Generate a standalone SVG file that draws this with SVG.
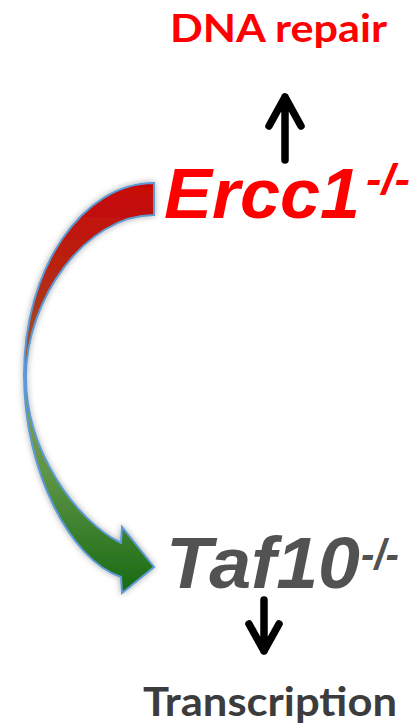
<svg xmlns="http://www.w3.org/2000/svg" width="419" height="727" viewBox="0 0 419 727">
<defs>
<style>
.lbl{font-family:Lato,"Open Sans","Liberation Sans",sans-serif;font-weight:bold}
.gene{font-family:"Liberation Sans",Arial,sans-serif;font-weight:bold;font-style:italic}
.arr{stroke:#000;stroke-width:7.5;fill:none;stroke-linecap:round;stroke-linejoin:round}
</style>
<linearGradient id="g" gradientUnits="userSpaceOnUse" x1="0" y1="183" x2="0" y2="593">
<stop offset="0" stop-color="#c80505"/>
<stop offset="0.25" stop-color="#b42a14"/>
<stop offset="0.45" stop-color="#9a5a35"/>
<stop offset="0.57" stop-color="#7a9a55"/>
<stop offset="0.72" stop-color="#5c9345"/>
<stop offset="1" stop-color="#176a12"/>
</linearGradient>
<filter id="sh" x="-20%" y="-10%" width="140%" height="120%">
<feDropShadow dx="0" dy="0" stdDeviation="3" flood-color="#000" flood-opacity="0.35"/>
</filter>
</defs>
<rect width="419" height="727" fill="#fff"/>
<g id="connectors">
<path id="curved-arrow" filter="url(#sh)" fill="url(#g)" stroke="#5b9bd5" stroke-width="2" stroke-linejoin="miter" d="M154,183 C82,183 24,269 24,375 C24,470 70,560 121,577 L122,593 L154,567 L122,527 L121,543 C75,520 26,450 26,377 C26,300 85,215 154,215 Z"/>
<path id="up-arrow" class="arr" d="M285,160 L285,97 M269,126 L285,97 L301,126"/>
<path id="down-arrow" class="arr" d="M264,600 L264,651 M249,624 L264,651 L279,624"/>
</g>
<g id="dna-repair">
<text class="lbl" x="170" y="42" font-size="39" fill="#ff0000" textLength="217" lengthAdjust="spacingAndGlyphs">DNA repair</text>
</g>
<g id="ercc1">
<text class="gene" x="164" y="218" font-size="71" fill="#ff0000" textLength="196" lengthAdjust="spacingAndGlyphs">Ercc1</text>
<text class="gene" x="366" y="194" font-size="42" fill="#ff0000" textLength="44" lengthAdjust="spacingAndGlyphs">-/-</text>
</g>
<g id="taf10">
<text class="gene" x="166" y="588" font-size="73" fill="#525252" textLength="194" lengthAdjust="spacingAndGlyphs">Taf10</text>
<text class="gene" x="361" y="569" font-size="42" fill="#525252" textLength="38" lengthAdjust="spacingAndGlyphs">-/-</text>
</g>
<g id="transcription">
<text class="lbl" x="143" y="716" font-size="41" fill="#3c3c3c" textLength="254" lengthAdjust="spacingAndGlyphs">Transcription</text>
</g>
</svg>
